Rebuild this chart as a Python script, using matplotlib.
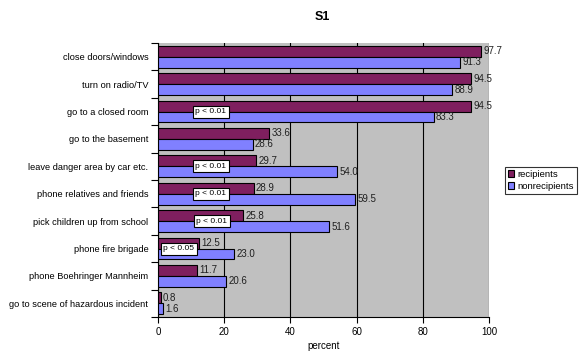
import numpy as np
import matplotlib
matplotlib.use('Agg')
import matplotlib.pyplot as plt

plt.rcParams['font.family'] = ['Liberation Sans', 'DejaVu Sans']

categories = ['close doors/windows', 'turn on radio/TV', 'go to a closed room',
              'go to the basement', 'leave danger area by car etc.',
              'phone relatives and friends', 'pick children up from school',
              'phone fire brigade', 'phone Boehringer Mannheim',
              'go to scene of hazardous incident']
recipients = [97.7, 94.5, 94.5, 33.6, 29.7, 28.9, 25.8, 12.5, 11.7, 0.8]
nonrecipients = [91.3, 88.9, 83.3, 28.6, 54.0, 59.5, 51.6, 23.0, 20.6, 1.6]
# p-value notes: category index -> text
pnotes = {2: 'p < 0.01', 4: 'p < 0.01', 5: 'p < 0.01', 6: 'p < 0.01', 7: 'p < 0.05'}
pnote_x = {2: 16, 4: 16, 5: 16, 6: 16.3, 7: 6.3}

fig = plt.figure(figsize=(5.82, 3.62), dpi=100)
ax = fig.add_axes([158/582, 1-317/362, 331/582, 274/362])
ax.set_facecolor('#c0c0c0')

y = np.arange(len(categories))
h = 0.4
ax.barh(y - h/2, recipients, height=h, color='#7f1f5f', edgecolor='black',
        linewidth=0.8, label='recipients', zorder=3)
ax.barh(y + h/2, nonrecipients, height=h, color='#8080ff', edgecolor='black',
        linewidth=0.8, label='nonrecipients', zorder=3)

for i in range(len(categories)):
    ax.text(recipients[i] + 0.7, y[i] - h/2, '%.1f' % recipients[i], va='center',
            ha='left', fontsize=7, color='#202020', clip_on=False, zorder=4)
    ax.text(nonrecipients[i] + 0.7, y[i] + h/2, '%.1f' % nonrecipients[i], va='center',
            ha='left', fontsize=7, color='#202020', clip_on=False, zorder=4)

for i, txt in pnotes.items():
    ax.text(pnote_x[i], y[i], txt, ha='center', va='center', fontsize=6, zorder=5,
            bbox=dict(boxstyle='square,pad=0.3', facecolor='white', edgecolor='black',
                      linewidth=0.8))

ax.set_xlim(0, 100)
ax.set_ylim(len(categories) - 0.5, -0.5)
ax.set_xticks([0, 20, 40, 60, 80, 100])
ax.tick_params(axis='x', labelsize=7, length=4, direction='out', pad=3)
ax.set_yticks(np.arange(len(categories) + 1) - 0.5)
ax.set_yticklabels([])
ax.set_yticks(y, minor=True)
ax.set_yticklabels(categories, minor=True, fontsize=6.7)
ax.tick_params(axis='y', which='major', length=5, direction='out')
ax.tick_params(axis='y', which='minor', length=0, pad=7)
ax.xaxis.grid(True, color='black', linewidth=0.8, zorder=1)
ax.set_axisbelow(True)
for s in ['top', 'right']:
    ax.spines[s].set_visible(False)
ax.spines['left'].set_linewidth(0.8)
ax.spines['bottom'].set_linewidth(0.8)

ax.set_xlabel('percent', fontsize=7, labelpad=3)
fig.text(322/582, 1-17/362, 'S1', ha='center', va='center', fontsize=9, fontweight='bold')

leg = fig.legend(loc='upper left', bbox_to_anchor=(505/582, 1-167/362), fontsize=6.8,
                 frameon=True, fancybox=False, edgecolor='black', handlelength=0.7,
                 handleheight=0.7, handletextpad=0.3, borderpad=0.3, labelspacing=0.3,
                 borderaxespad=0)
leg.get_frame().set_linewidth(0.8)

fig.savefig('out.png', dpi=100)
